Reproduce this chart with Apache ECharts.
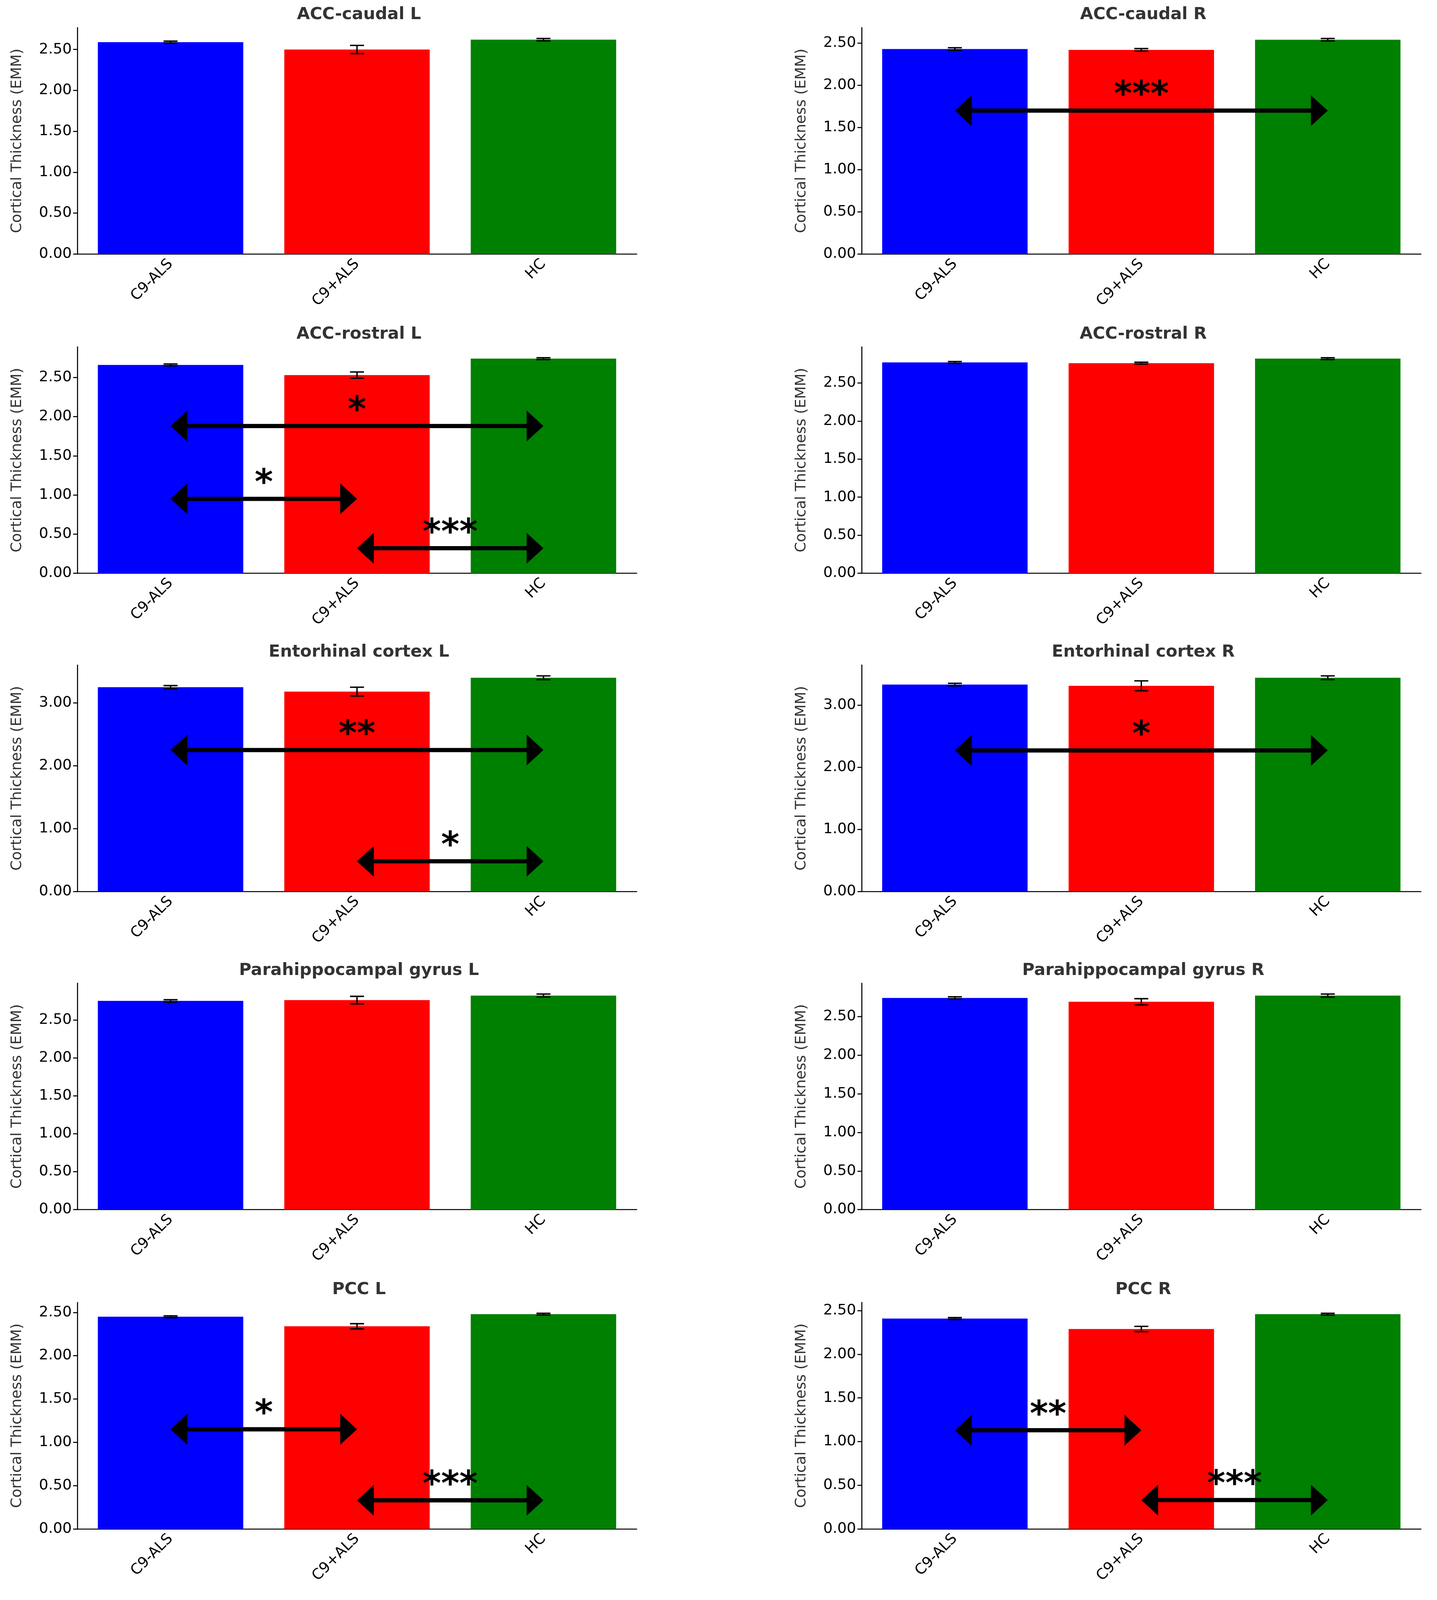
<!DOCTYPE html>
<html>
<head>
<meta charset="utf-8">
<script src="https://cdn.jsdelivr.net/npm/echarts@6/dist/echarts.min.js"></script>
<style>html,body{margin:0;padding:0;background:#fff;overflow:hidden}#chart{width:100vw;height:100vh}</style>
</head>
<body>
<div id="chart"></div>
<script>
const categories = ['C9-ALS', 'C9+ALS', 'HC'];
const colors = ['#0000ff', '#ff0000', '#008000'];

const titles = [
  'ACC-caudal L', 'ACC-caudal R',
  'ACC-rostral L', 'ACC-rostral R',
  'Entorhinal cortex L', 'Entorhinal cortex R',
  'Parahippocampal gyrus L', 'Parahippocampal gyrus R',
  'PCC L', 'PCC R'
];
const means = [
  [2.59, 2.50, 2.62], [2.43, 2.42, 2.54],
  [2.66, 2.53, 2.74], [2.77, 2.76, 2.82],
  [3.25, 3.18, 3.40], [3.33, 3.31, 3.44],
  [2.75, 2.76, 2.82], [2.74, 2.69, 2.77],
  [2.45, 2.34, 2.48], [2.41, 2.29, 2.46]
];
const errors = [
  [0.012, 0.05, 0.015], [0.015, 0.015, 0.015],
  [0.012, 0.04, 0.012], [0.012, 0.012, 0.012],
  [0.025, 0.07, 0.03], [0.02, 0.08, 0.03],
  [0.015, 0.05, 0.02], [0.015, 0.04, 0.02],
  [0.01, 0.03, 0.01], [0.01, 0.03, 0.01]
];
const yInterval = [0.5, 0.5, 0.5, 0.5, 1, 1, 0.5, 0.5, 0.5, 0.5];
// significance brackets: [fromIndex, toIndex, y, label]
const brackets = [
  [], [[0, 2, 1.70, '***']],
  [[0, 2, 1.88, '*'], [0, 1, 0.95, '*'], [1, 2, 0.32, '***']], [],
  [[0, 2, 2.25, '**'], [1, 2, 0.48, '*']], [[0, 2, 2.27, '*']],
  [], [],
  [[0, 1, 1.15, '*'], [1, 2, 0.33, '***']], [[0, 1, 1.13, '**'], [1, 2, 0.33, '***']]
];

const el = document.getElementById('chart');
const W = el.clientWidth || 3679, H = el.clientHeight || 4566;
const sx = W / 3679, sy = H / 4566, s = Math.min(sx, sy);
const chart = echarts.init(el);
const lefts = [198, 2206];
const tops = [79, 990, 1898, 2806, 3717];
const grids = [], xAxes = [], yAxes = [], series = [], titleOpts = [];

titles.forEach((t, i) => {
  const col = i % 2, row = Math.floor(i / 2);
  const left = lefts[col] * sx, top = tops[row] * sy;
  grids.push({left: left, top: top, width: 1432 * sx, height: 646 * sy});
  titleOpts.push({
    text: t, left: left + 716 * sx, top: top - 66 * s, textAlign: 'center',
    textStyle: {fontSize: 48 * s, fontWeight: 'bold', color: '#333', fontFamily: 'DejaVu Sans'}
  });
  let mx = 0;
  means[i].forEach((m, k) => { mx = Math.max(mx, m + errors[i][k]); });
  xAxes.push({
    type: 'category', gridIndex: i, data: categories,
    axisLine: {lineStyle: {color: '#000', width: 3 * s}},
    axisTick: {alignWithLabel: true, length: 12 * s, lineStyle: {color: '#000', width: 3 * s}},
    axisLabel: {rotate: 45, fontSize: 42 * s, color: '#000', margin: 22 * s, fontFamily: 'DejaVu Sans'}
  });
  yAxes.push({
    type: 'value', gridIndex: i, min: 0, max: mx * 1.05, interval: yInterval[i],
    name: 'Cortical Thickness (EMM)', nameLocation: 'middle', nameGap: 150 * s,
    nameTextStyle: {fontSize: 42 * s, color: '#333', fontFamily: 'DejaVu Sans'},
    splitLine: {show: false},
    axisLine: {show: true, lineStyle: {color: '#000', width: 3 * s}},
    axisTick: {show: true, length: 12 * s, lineStyle: {color: '#000', width: 3 * s}},
    axisLabel: {
      fontSize: 42 * s, color: '#000', margin: 16 * s, fontFamily: 'DejaVu Sans',
      formatter: v => v.toFixed(2),
      showMaxLabel: false
    }
  });
  series.push({
    type: 'bar', xAxisIndex: i, yAxisIndex: i, barCategoryGap: '22%',
    data: means[i].map((m, k) => ({value: m, itemStyle: {color: colors[k]}})),
    z: 1
  });
  series.push({
    type: 'custom', xAxisIndex: i, yAxisIndex: i, z: 3,
    data: means[i].map((m, k) => [k, m - errors[i][k], m + errors[i][k]]),
    renderItem: (params, api) => {
      const lo = api.coord([api.value(0), api.value(1)]);
      const hi = api.coord([api.value(0), api.value(2)]);
      const w = 20 * s, st = {stroke: '#000', lineWidth: 4 * s};
      return {type: 'group', children: [
        {type: 'line', shape: {x1: lo[0], y1: lo[1], x2: hi[0], y2: hi[1]}, style: st},
        {type: 'line', shape: {x1: lo[0] - w, y1: lo[1], x2: lo[0] + w, y2: lo[1]}, style: st},
        {type: 'line', shape: {x1: hi[0] - w, y1: hi[1], x2: hi[0] + w, y2: hi[1]}, style: st}
      ]};
    }
  });
  if (brackets[i].length) {
    series.push({
      type: 'custom', xAxisIndex: i, yAxisIndex: i, z: 4,
      data: brackets[i].map(b => [b[0], b[1], b[2]]),
      renderItem: (params, api) => {
        const a = api.coord([api.value(0), api.value(2)]);
        const b = api.coord([api.value(1), api.value(2)]);
        const hl = 48 * s, hh = 44 * s, label = brackets[i][params.dataIndex][3];
        return {type: 'group', children: [
          {type: 'rect', shape: {x: a[0] + hl - 2, y: a[1] - 6 * s, width: b[0] - a[0] - 2 * hl + 4, height: 12 * s}, style: {fill: '#000'}},
          {type: 'polygon', shape: {points: [[a[0], a[1]], [a[0] + hl, a[1] - hh], [a[0] + hl, a[1] + hh]]}, style: {fill: '#000'}},
          {type: 'polygon', shape: {points: [[b[0], b[1]], [b[0] - hl, b[1] - hh], [b[0] - hl, b[1] + hh]]}, style: {fill: '#000'}},
          {type: 'text', x: (a[0] + b[0]) / 2, y: a[1] + 10 * s, style: {
            text: label, fontSize: 100 * s, fontWeight: 'bold', fill: '#000',
            fontFamily: 'DejaVu Sans', align: 'center', verticalAlign: 'bottom'
          }}
        ]};
      }
    });
  }
});

chart.setOption({
  animation: false,
  backgroundColor: '#fff',
  title: titleOpts,
  grid: grids,
  xAxis: xAxes,
  yAxis: yAxes,
  series: series
});
</script>
</body>
</html>
